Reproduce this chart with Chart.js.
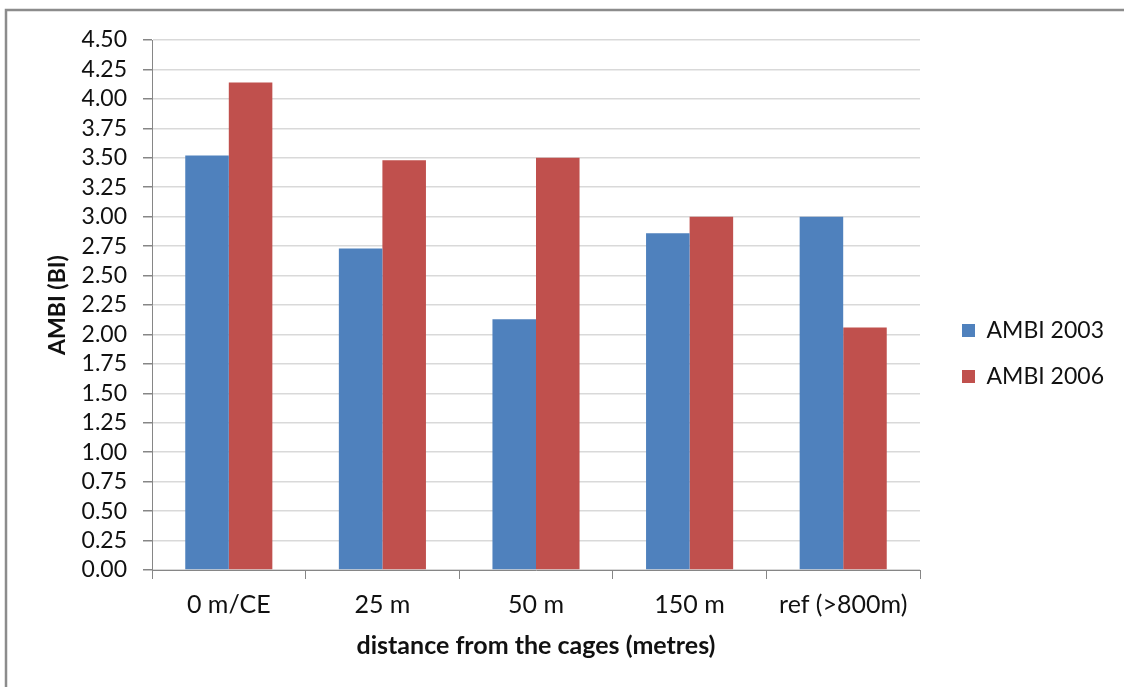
<!DOCTYPE html>
<html>
<head>
<meta charset="utf-8">
<script src="https://cdn.jsdelivr.net/npm/chart.js@4.4.1/dist/chart.umd.min.js"></script>
<style>
  html, body { margin: 0; padding: 0; background: #fff; }
  #wrap { position: relative; width: 1124px; height: 687px; }
  canvas { display: block; }
</style>
</head>
<body>
<div id="wrap"><canvas id="c" width="1124" height="687"></canvas></div>
<script>
const categories = ['0 m/CE', '25 m', '50 m', '150 m', 'ref (>800m)'];
const ambi2003 = [3.52, 2.73, 2.13, 2.86, 3.00];
const ambi2006 = [4.14, 3.48, 3.50, 3.00, 2.06];
const seriesLabels = ['AMBI 2003', 'AMBI 2006'];
const yTickLabels = ['0.00','0.25','0.50','0.75','1.00','1.25','1.50','1.75','2.00','2.25','2.50','2.75','3.00','3.25','3.50','3.75','4.00','4.25','4.50'];
const yTitle = 'AMBI (BI)';
const xTitle = 'distance from the cages (metres)';

const FONT = 'Lato, "Open Sans", sans-serif';
const TXT = '#111111';

const frame = {
  id: 'frame',
  afterInit(chart) {
    const lg = chart.legend;
    if (lg) {
      const orig = lg.fit.bind(lg);
      lg.fit = function () { orig(); this.width = 204; };
    }
  },
  afterLayout(chart) {
    const lg = chart.legend;
    if (lg) { lg.left += 19; lg.right += 19; }
  },
  beforeDraw(chart) {
    const ctx = chart.ctx;
    ctx.save();
    ctx.fillStyle = '#fff';
    ctx.fillRect(0, 0, chart.width, chart.height);
    ctx.strokeStyle = '#8c8c8c';
    ctx.lineWidth = 2.5;
    ctx.strokeRect(6, 10, chart.width + 20, chart.height + 20);
    ctx.restore();
  },
  afterDraw(chart) {
    const ctx = chart.ctx;
    const ca = chart.chartArea;
    ctx.save();
    ctx.translate(58, (ca.top + ca.bottom) / 2);
    ctx.rotate(-Math.PI / 2);
    ctx.fillStyle = TXT;
    ctx.font = 'bold 23px ' + FONT;
    ctx.textAlign = 'center';
    ctx.textBaseline = 'middle';
    ctx.fillText(yTitle, 0, 0);
    ctx.restore();
  }
};

new Chart(document.getElementById('c'), {
  type: 'bar',
  data: {
    labels: categories,
    datasets: [
      { label: seriesLabels[0], data: ambi2003, backgroundColor: '#4F81BD', borderWidth: 0 },
      { label: seriesLabels[1], data: ambi2006, backgroundColor: '#C0504D', borderWidth: 0 }
    ]
  },
  plugins: [frame],
  options: {
    responsive: false,
    animation: false,
    devicePixelRatio: 1,
    layout: { padding: { top: 40, left: 46, right: 0, bottom: 20 } },
    datasets: { bar: { categoryPercentage: 0.567, barPercentage: 1.0 } },
    plugins: {
      legend: {
        position: 'right',
        labels: {
          color: TXT,
          font: { family: FONT, size: 23 },
          boxWidth: 13,
          boxHeight: 13,
          padding: 23
        }
      },
      tooltip: { enabled: false }
    },
    scales: {
      x: {
        afterFit(scale) { scale.height = 97; },
        grid: {
          offset: true,
          drawOnChartArea: false,
          drawTicks: true,
          tickLength: 9,
          color: '#868686'
        },
        border: { color: '#868686', width: 1 },
        ticks: { color: TXT, font: { family: FONT, size: 25 }, padding: 11 },
        title: {
          display: true,
          text: xTitle,
          color: TXT,
          font: { family: FONT, size: 25, weight: 'bold' },
          padding: { top: 4, bottom: 6 }
        }
      },
      y: {
        min: 0,
        max: 4.5,
        afterFit(scale) { scale.width = 106; },
        grid: {
          color: '#d9d9d9',
          lineWidth: 1.5,
          tickColor: '#868686',
          tickLength: 9,
          drawTicks: true
        },
        border: { color: '#868686', width: 1 },
        ticks: {
          stepSize: 0.25,
          autoSkip: false,
          color: TXT,
          font: { family: FONT, size: 23 },
          padding: 16,
          callback: (v, i) => yTickLabels[i]
        },
        title: { display: false }
      }
    }
  }
});
</script>
</body>
</html>
